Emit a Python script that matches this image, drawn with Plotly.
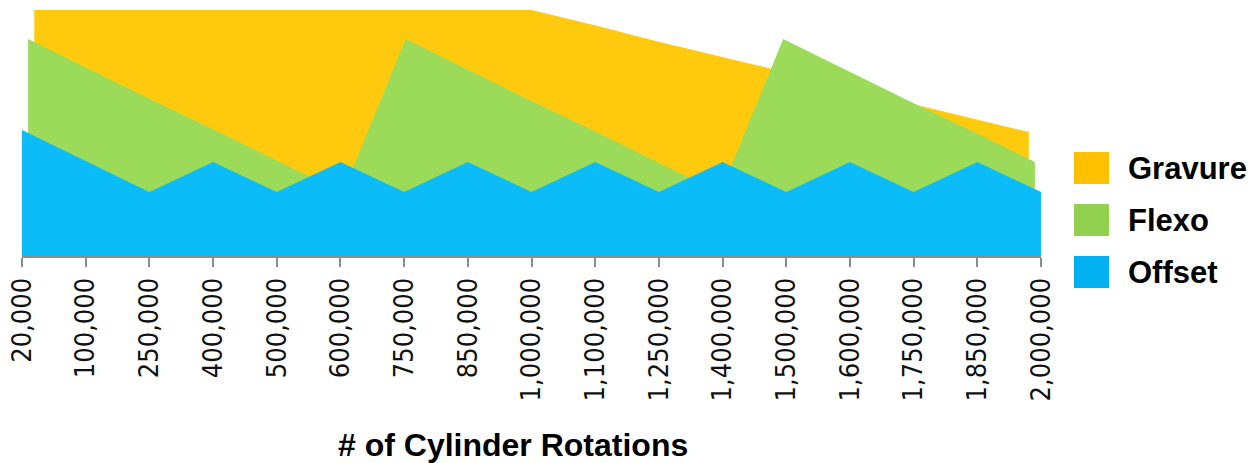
import plotly.graph_objects as go

# ---- data ----
categories = ["20,000", "100,000", "250,000", "400,000", "500,000", "600,000",
              "750,000", "850,000", "1,000,000", "1,100,000", "1,250,000",
              "1,400,000", "1,500,000", "1,600,000", "1,750,000", "1,850,000",
              "2,000,000"]
series_names = ["Gravure", "Flexo", "Offset"]
gravure = [246, 246, 246, 246, 246, 246, 246, 246, 246, 231, 215, 200, 185, 170, 154, 139, 124]
flexo = [217, 186, 155, 125, 94, 63, 217, 186, 155, 125, 94, 63, 217, 186, 155, 125, 94]
offset = [126, 95, 64, 94, 64, 94, 64, 94, 64, 94, 64, 94, 64, 94, 64, 94, 64]

# ---- style ----
fill_colors = ["#FFCA0E", "#9CDB59", "#0CBCF9"]
legend_colors = ["#FFC000", "#92D050", "#00B0F0"]
depth_shrink = [0.976, 0.988, 1.0]   # 3-D perspective: back series drawn slightly narrower

W, H = 1253, 463
L, R, T, B = 22, 1041, 10, 256  # plot area in pixels

def px_x(p):
    return (p - L) / (R - L)

def px_y(p):
    return (B - p) / (B - T)

n = len(categories)
center = (n - 1) / 2
fig = go.Figure()
for name, vals, col, k in zip(series_names, [gravure, flexo, offset], fill_colors, depth_shrink):
    xs = [center + (i - center) * k for i in range(n)]
    fig.add_trace(go.Scatter(x=xs, y=vals, name=name, mode="lines", fill="tozeroy",
                             fillcolor=col, line=dict(width=0, color=col),
                             hoverinfo="name+y", showlegend=False))

fig.update_xaxes(range=[0, n - 1], tickmode="array", tickvals=list(range(n)),
                 ticktext=categories, tickangle=-90, showgrid=False, zeroline=False,
                 showline=True, linecolor="#8C8C8C", linewidth=2,
                 ticks="outside", ticklen=9, tickwidth=2, tickcolor="#8C8C8C",
                 tickfont=dict(family="DejaVu Sans Condensed, DejaVu Sans", size=27, color="#111111"),
                 ticklabelstandoff=0, automargin=False)
fig.update_yaxes(range=[0, 246], visible=False, showgrid=False, zeroline=False)

annotations = [dict(text="<b># of Cylinder Rotations</b>", xref="paper", yref="paper",
                    x=px_x(512.5), y=px_y(445), xanchor="center", yanchor="middle",
                    showarrow=False,
                    font=dict(family="Liberation Sans", size=32, color="#000000"))]
shapes = []
for j, (name, col) in enumerate(zip(series_names, legend_colors)):
    top = 152 + 52 * j
    shapes.append(dict(type="rect", xref="paper", yref="paper",
                       x0=px_x(1074), x1=px_x(1109), y0=px_y(top + 32), y1=px_y(top),
                       fillcolor=col, line=dict(width=0)))
    annotations.append(dict(text=f"<b>{name}</b>", xref="paper", yref="paper",
                            x=px_x(1126), y=px_y(top + 16), xanchor="left", yanchor="middle",
                            showarrow=False,
                            font=dict(family="Liberation Sans", size=31, color="#000000")))

fig.update_layout(width=W, height=H, margin=dict(l=L, r=W - R, t=T, b=H - B),
                  paper_bgcolor="white", plot_bgcolor="white",
                  annotations=annotations, shapes=shapes, showlegend=False)

fig.write_html("out.html", config={"displayModeBar": False},
               post_script="document.body.style.margin='0px';")
